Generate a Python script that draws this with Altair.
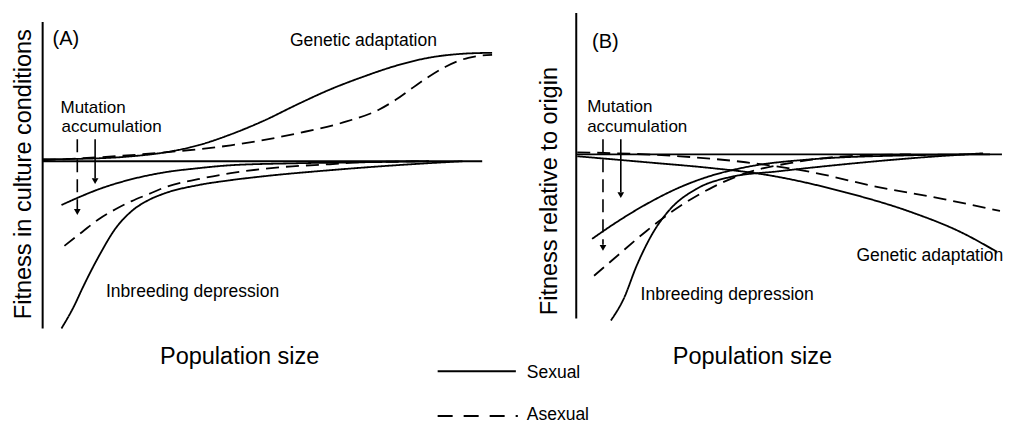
import altair as alt
import pandas as pd

# ---------------- data (figure units) ----------------
# Panel A : fitness in culture conditions
A_base_x = [43, 487]
A_base_y = [162, 162]
A_ga_sex_x = [43, 100, 133, 167, 200, 233, 267, 300, 333, 367, 400, 433, 467, 497]
A_ga_sex_y = [160, 159, 157, 153, 146, 135, 121, 105, 90, 77, 66, 58, 54, 53]
A_ga_asex_x = [43, 100, 167, 233, 300, 350, 383, 400, 417, 433, 450, 473, 497]
A_ga_asex_y = [161, 158, 153, 146, 134, 122, 110, 100, 88, 77, 67, 58, 55]
A_ma_sex_x = [62, 80, 100, 133, 167, 200, 233, 300, 367, 433]
A_ma_sex_y = [206, 198, 190, 180, 173, 169, 166, 164, 163, 162]
A_ma_asex_x = [65, 83, 100, 117, 133, 150, 167, 200, 233, 283, 333, 367, 433]
A_ma_asex_y = [247, 233, 220, 210, 202, 195, 188, 180, 174, 168, 165, 163, 162]
A_id_x = [62, 75, 83, 93, 100, 117, 133, 150, 167, 200, 233, 267, 333, 400, 467]
A_id_y = [330, 307, 290, 270, 257, 229, 212, 201, 194, 186, 181, 177, 171, 166, 162]

# Panel B : fitness relative to origin
B_base_x = [582, 1012]
B_base_y = [155, 155]
B_ga_sex_x = [583, 653, 720, 770, 853, 920, 970, 1007]
B_ga_sex_y = [157, 163, 169, 175, 193, 213, 233, 253]
B_ga_asex_x = [583, 687, 753, 820, 887, 953, 1010]
B_ga_asex_y = [153, 157, 163, 173, 188, 200, 212]
B_ma_sex_x = [598, 620, 653, 687, 720, 753, 820, 920, 1000]
B_ma_sex_y = [240, 225, 205, 188, 176, 168, 160, 156, 155]
B_ma_asex_x = [600, 620, 653, 687, 720, 753, 803, 853, 920]
B_ma_asex_y = [277, 260, 232, 207, 188, 174, 163, 157, 155]
B_id_x = [617, 630, 643, 660, 677, 703, 737, 787, 853, 920, 993]
B_id_y = [322, 300, 267, 233, 210, 190, 178, 172, 165, 159, 154]

# arrows (mutation accumulation)
arrow_x = [78, 96, 609, 627]
arrow_top = [140, 140, 140, 140]
arrow_end = [210, 179, 246, 193]
arrow_style = ["Asexual", "Sexual", "Asexual", "Sexual"]

# vertical axis lines
vaxis_x = [43, 582]
vaxis_top = [22, 13]
vaxis_bottom = [330, 320]

# labels
small_labels = ["(A)", "(B)", "Mutation", "accumulation", "Mutation", "accumulation",
                "Inbreeding depression", "Inbreeding depression", "Genetic adaptation",
                "Sexual", "Asexual"]
small_x = [53, 598, 61, 62, 593, 593, 107, 647, 865, 532, 532]
small_y = [45, 48, 114, 133, 113, 133, 298, 301, 262, 380, 422]
small_size = [20, 20, 17, 17, 17, 17, 17.5, 17.5, 17.5, 17.5, 17.5]
center_labels = ["Genetic adaptation", "Population size", "Population size"]
center_x = [367, 242, 760]
center_y = [46, 366, 366]
center_size = [17.5, 23.5, 23.5]
ytitles = ["Fitness in culture conditions", "Fitness relative to origin"]
ytitle_x = [31, 563]
ytitle_y = [175, 192]

legend_styles = ["Sexual", "Asexual"]
legend_y = [373, 418]

# ---------------- build tables ----------------
curves = [
    ("A_base", "Sexual", A_base_x, A_base_y),
    ("A_ga_sex", "Sexual", A_ga_sex_x, A_ga_sex_y),
    ("A_ga_asex", "Asexual", A_ga_asex_x, A_ga_asex_y),
    ("A_ma_sex", "Sexual", A_ma_sex_x, A_ma_sex_y),
    ("A_ma_asex", "Asexual", A_ma_asex_x, A_ma_asex_y),
    ("A_id", "Sexual", A_id_x, A_id_y),
    ("B_base", "Sexual", B_base_x, B_base_y),
    ("B_ga_sex", "Sexual", B_ga_sex_x, B_ga_sex_y),
    ("B_ga_asex", "Asexual", B_ga_asex_x, B_ga_asex_y),
    ("B_ma_sex", "Sexual", B_ma_sex_x, B_ma_sex_y),
    ("B_ma_asex", "Asexual", B_ma_asex_x, B_ma_asex_y),
    ("B_id", "Sexual", B_id_x, B_id_y),
]
rows = []
for name, style, xs, ys in curves:
    for i, (xv, yv) in enumerate(zip(xs, ys)):
        rows.append({"curve": name, "style": style, "x": xv, "y": yv, "i": i})
curve_df = pd.DataFrame(rows)

arrow_df = pd.DataFrame({"x": arrow_x, "y": arrow_top, "y2": arrow_end, "style": arrow_style})
head_df = pd.DataFrame({"x": arrow_x, "y": [e + 3 for e in arrow_end]})
vaxis_df = pd.DataFrame({"x": vaxis_x, "y": vaxis_top, "y2": vaxis_bottom})
small_df = pd.DataFrame({"t": small_labels, "x": small_x, "y": small_y, "s": small_size})
center_df = pd.DataFrame({"t": center_labels, "x": center_x, "y": center_y, "s": center_size})
ytitle_df = pd.DataFrame({"t": ytitles, "x": ytitle_x, "y": ytitle_y})
legend_df = pd.DataFrame({"style": legend_styles, "x": [442, 442], "x2": [521, 523], "y": legend_y})

# ---------------- scales ----------------
xs_ = alt.Scale(domain=[8, 1006], nice=False, zero=False)
ys_ = alt.Scale(domain=[8, 424], nice=False, zero=False, reverse=True)
X = alt.X("x:Q", scale=xs_, axis=None)
Y = alt.Y("y:Q", scale=ys_, axis=None)
dash = alt.StrokeDash("style:N", scale=alt.Scale(domain=["Sexual", "Asexual"],
                                                 range=[[1, 0], [13, 7]]), legend=None)
FONT = "Liberation Sans"

lines = alt.Chart(curve_df).mark_line(interpolate="monotone", color="black", strokeWidth=1.8).encode(
    x=X, y=Y, detail="curve:N", strokeDash=dash, order="i:Q")

shafts = alt.Chart(arrow_df).mark_rule(color="black", strokeWidth=1.6).encode(
    x=X, y=Y, y2="y2:Q", strokeDash=dash)

heads = alt.Chart(head_df).mark_point(shape="triangle-down", filled=True, color="black",
                                      size=45, opacity=1).encode(x=X, y=Y)

vaxes = alt.Chart(vaxis_df).mark_rule(color="black", strokeWidth=2).encode(x=X, y=Y, y2="y2:Q")

legend_lines = alt.Chart(legend_df).mark_rule(color="black", strokeWidth=2).encode(
    x=X, x2="x2:Q", y=Y,
    strokeDash=alt.StrokeDash("style:N", scale=alt.Scale(domain=["Sexual", "Asexual"],
                                                         range=[[1, 0], [15, 11]]), legend=None))

small_txt = alt.Chart(small_df).mark_text(align="left", baseline="alphabetic", font=FONT,
                                          color="black").encode(
    x=X, y=Y, text="t:N", size=alt.Size("s:Q", scale=None, legend=None))

center_txt = alt.Chart(center_df).mark_text(align="center", baseline="alphabetic", font=FONT,
                                            color="black").encode(
    x=X, y=Y, text="t:N", size=alt.Size("s:Q", scale=None, legend=None))

ytitle_txt = alt.Chart(ytitle_df).mark_text(align="center", baseline="alphabetic", font=FONT,
                                            color="black", angle=270, fontSize=23.5).encode(
    x=X, y=Y, text="t:N")

chart = alt.layer(vaxes, lines, shafts, heads, legend_lines, small_txt, center_txt, ytitle_txt).resolve_scale(
    strokeDash="independent"
).properties(
    width=998, height=416,
    autosize=alt.AutoSizeParams(type="fit", contains="padding"),
    padding=0,
).configure(background="white", view=alt.ViewConfig(stroke=None))

chart.save("out.html", embed_options={"renderer": "svg", "actions": False})
